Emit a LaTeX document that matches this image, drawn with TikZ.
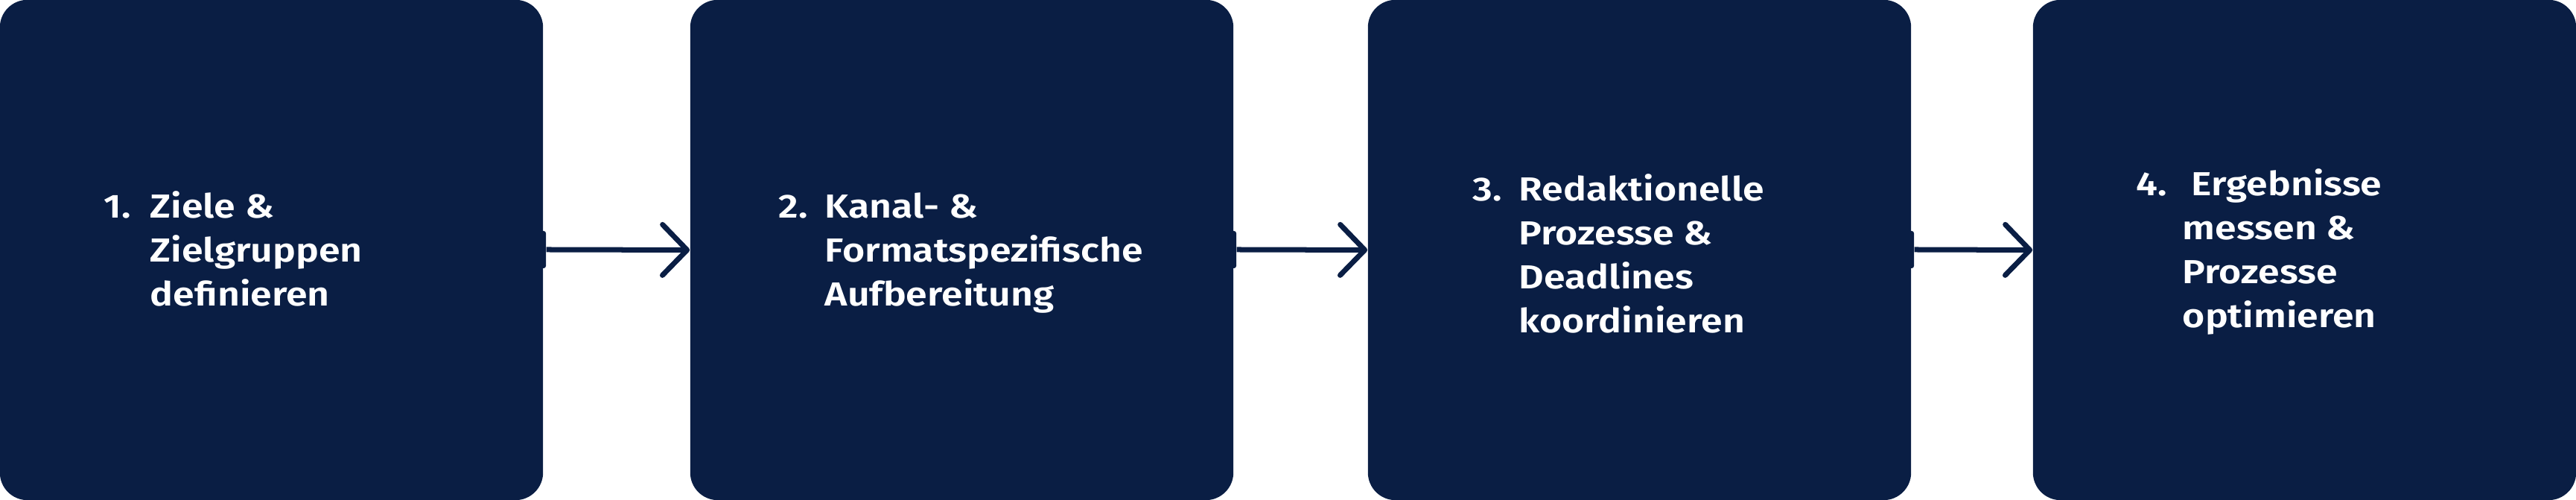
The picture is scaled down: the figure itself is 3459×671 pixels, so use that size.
\documentclass[tikz,border=0pt]{standalone}
\usepackage{fontspec}
\setmainfont{Fira Sans}[UprightFont={* SemiBold}, FakeStretch=1.16]
\usetikzlibrary{arrows.meta}
\definecolor{navy}{RGB}{10,30,68}
\tikzset{
  stepbox/.style={rectangle, fill=navy, draw=none, rounded corners=0.37cm,
    minimum width=7.29cm, minimum height=6.71cm, inner sep=0pt},
  tab/.style={rectangle, fill=navy, draw=none, rounded corners=0.03cm,
    minimum width=0.1cm, minimum height=0.5cm, inner sep=0pt},
  label/.style={anchor=base west, inner sep=0pt, text=white,
    font=\fontsize{12.7}{16.7}\selectfont},
  flow/.style={draw=navy, line width=0.07cm,
    -{Straight Barb[length=0.33cm, width=0.68cm, line cap=round, line join=round]}}
}
\newcommand{\steptext}[4]{\begin{tabular}[t]{@{}p{0.62cm}@{}l@{}}#1 & #2\\ & #3\\ & #4\end{tabular}}
\begin{document}
\begin{tikzpicture}[x=0.01cm, y=-0.01cm]
\useasboundingbox (0,0) rectangle (3459,671);
\node[stepbox] (b1) at (364.5,335.5) {};
\node[stepbox] (b2) at (1291.5,335.5) {};
\node[stepbox] (b3) at (2201.5,335.5) {};
\node[stepbox] (b4) at (3094.5,335.5) {};
\node[tab] (t1) at (728,335) {};
\node[tab] (t2) at (1655,335) {};
\node[tab] (t3) at (2565,335) {};
\draw[flow] (t1.east) -- (b2.west);
\draw[flow] (t2.east) -- (b3.west);
\draw[flow] (t3.east) -- (b4.west);
\node[label] (l1) at (139,293) {\steptext{1.}{Ziele \&}{Zielgruppen}{definieren}};
\node[label] (l2) at (1045,293) {\steptext{2.}{Kanal- \&}{Formatspezifische}{Aufbereitung}};
\node[label] (l3) at (1977,270) {\begin{tabular}[t]{@{}p{0.62cm}@{}l@{}}3. & Redaktionelle\\ & Prozesse \&\\ & Deadlines\\ & koordinieren\end{tabular}};
\node[label] (l4) at (2868,263) {\begin{tabular}[t]{@{}p{0.62cm}@{}l@{}}4. & \hspace{0.12cm}Ergebnisse\\ & messen \&\\ & Prozesse\\ & optimieren\end{tabular}};
\end{tikzpicture}
\end{document}
